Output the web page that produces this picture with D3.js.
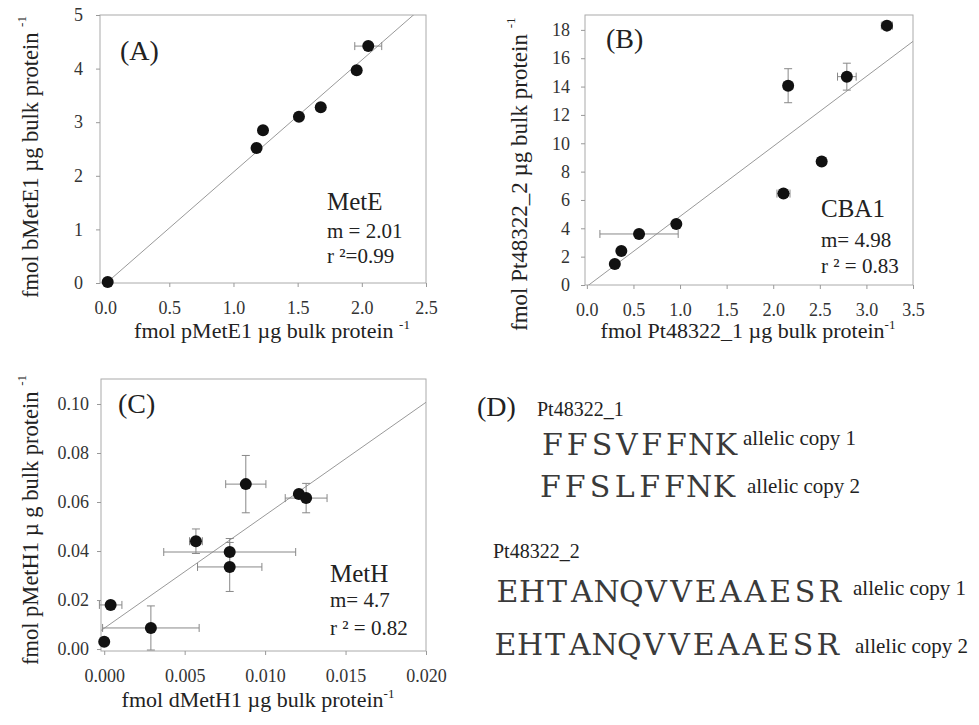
<!DOCTYPE html>
<html>
<head>
<meta charset="utf-8">
<title>Allelic copy quantification</title>
<script src="https://d3js.org/d3.v7.min.js"></script>
<style>
  body { margin: 0; background: #fff; }
  svg text { font-family: "Liberation Serif", "Times New Roman", serif; fill: #222; }
</style>
</head>
<body>
<div id="chart"></div>
<script>
// (A) MetE
let metEx    = [0.02, 1.18, 1.23, 1.51, 1.68, 1.96, 2.05];
let metEy    = [0.02, 2.52, 2.85, 3.10, 3.28, 3.97, 4.42];
let metExErr = [0, 0, 0, 0, 0, 0, 0.105];
let metEyErr = [0, 0, 0, 0, 0, 0, 0];
let metEFit  = [2.09, -0.02];          // slope, intercept of drawn line
let metEStats = ["MetE", "m = 2.01", "r ²=0.99"];

// (B) CBA1
let cbaX    = [0.30, 0.37, 0.56, 0.96, 2.11, 2.16, 2.52, 2.79, 3.22];
let cbaY    = [1.48, 2.40, 3.60, 4.30, 6.45, 14.06, 8.72, 14.70, 18.30];
let cbaXErr = [0, 0, 0.42, 0, 0.07, 0.05, 0.04, 0.10, 0.06];
let cbaYErr = [0, 0, 0, 0.1, 0, 1.2, 0, 0.95, 0.3];
let cbaFit  = [4.94, -0.10];
let cbaStats = ["CBA1", "m= 4.98", "r ² = 0.83"];

// (C) MetH
let metHx    = [0.0000, 0.0004, 0.0029, 0.0057, 0.0078, 0.0078, 0.0088, 0.0121, 0.01255];
let metHy    = [0.003, 0.018, 0.0086, 0.044, 0.0396, 0.0335, 0.0673, 0.0633, 0.0616];
let metHxErr = [0, 0.0007, 0.003, 0.0004, 0.0041, 0.002, 0.00125, 0, 0.0013];
let metHyErr = [0, 0, 0.009, 0.005, 0.0055, 0.01, 0.0117, 0, 0.006];
let metHFit  = [4.61, 0.0085];
let metHStats = ["MetH", "m= 4.7", "r ² = 0.82"];

// ticks
let ticksAx = [0, 0.5, 1.0, 1.5, 2.0, 2.5];
let ticksAy = [0, 1, 2, 3, 4, 5];
let ticksBx = [0, 0.5, 1.0, 1.5, 2.0, 2.5, 3.0, 3.5];
let ticksBy = [0, 2, 4, 6, 8, 10, 12, 14, 16, 18];
let ticksCx = [0, 0.005, 0.010, 0.015, 0.020];
let ticksCy = [0, 0.02, 0.04, 0.06, 0.08, 0.10];

// (D) peptides
let proteinNames = ["Pt48322_1", "Pt48322_2"];
let peptides = ["FFSVFFNK", "FFSLFFNK", "EHTANQVVEAAESR", "EHTANQVVEAAESR"];
let copyLabels = ["allelic copy 1", "allelic copy 2", "allelic copy 1", "allelic copy 2"];

let width = 979, height = 725;
let serif = '"Liberation Serif", "Times New Roman", serif';

let svg = d3.select("#chart").append("svg")
    .attr("width", width)
    .attr("height", height);

svg.append("rect").attr("width", width).attr("height", height).attr("fill", "#fff");

function styleAxis(a) {
    a.select(".domain").remove();
    a.selectAll("line").attr("stroke", "#999");
    a.selectAll("text")
        .style("font-family", serif)
        .style("font-size", "18px")
        .style("fill", "#333");
}

function drawPanel(p) {
    let g = svg.append("g");
    let x = d3.scaleLinear().domain(p.xDomain).range([p.left, p.right]);
    let y = d3.scaleLinear().domain(p.yDomain).range([p.bottom, p.top]);

    let clipId = "clip" + p.tag;
    g.append("clipPath").attr("id", clipId)
      .append("rect")
        .attr("x", p.left).attr("y", p.top)
        .attr("width", p.right - p.left).attr("height", p.bottom - p.top);

    // frame
    g.append("rect")
        .attr("x", p.left).attr("y", p.top)
        .attr("width", p.right - p.left).attr("height", p.bottom - p.top)
        .attr("fill", "none").attr("stroke", "#aaa").attr("stroke-width", 1);

    g.append("g")
        .attr("transform", `translate(0,${p.bottom})`)
        .call(d3.axisBottom(x).tickValues(p.xTicks).tickFormat(d3.format(p.xFmt))
            .tickSize(4).tickSizeOuter(0).tickPadding(14))
        .call(styleAxis);

    g.append("g")
        .attr("transform", `translate(${p.left},0)`)
        .call(d3.axisLeft(y).tickValues(p.yTicks).tickFormat(d3.format(p.yFmt))
            .tickSize(4).tickSizeOuter(0).tickPadding(p.yPad))
        .call(styleAxis);

    // regression line
    let line = d3.line().x(d => x(d)).y(d => y(p.fit[0] * d + p.fit[1]));
    g.append("path")
        .attr("clip-path", `url(#${clipId})`)
        .attr("d", line(p.xDomain))
        .attr("fill", "none").attr("stroke", "#999").attr("stroke-width", 1);

    let pts = p.xs.map((v, i) => ({x: v, y: p.ys[i], ex: p.xErr[i], ey: p.yErr[i]}));
    let cap = 4;
    let eb = g.append("g").attr("stroke", "#888").attr("stroke-width", 1);
    pts.filter(d => d.ex > 0).forEach(d => {
        eb.append("line").attr("x1", x(d.x - d.ex)).attr("x2", x(d.x + d.ex)).attr("y1", y(d.y)).attr("y2", y(d.y));
        eb.append("line").attr("x1", x(d.x - d.ex)).attr("x2", x(d.x - d.ex)).attr("y1", y(d.y) - cap).attr("y2", y(d.y) + cap);
        eb.append("line").attr("x1", x(d.x + d.ex)).attr("x2", x(d.x + d.ex)).attr("y1", y(d.y) - cap).attr("y2", y(d.y) + cap);
    });
    pts.filter(d => d.ey > 0).forEach(d => {
        eb.append("line").attr("x1", x(d.x)).attr("x2", x(d.x)).attr("y1", y(d.y - d.ey)).attr("y2", y(d.y + d.ey));
        eb.append("line").attr("x1", x(d.x) - cap).attr("x2", x(d.x) + cap).attr("y1", y(d.y - d.ey)).attr("y2", y(d.y - d.ey));
        eb.append("line").attr("x1", x(d.x) - cap).attr("x2", x(d.x) + cap).attr("y1", y(d.y + d.ey)).attr("y2", y(d.y + d.ey));
    });

    g.append("g").selectAll("circle")
        .data(pts)
        .join("circle")
        .attr("cx", d => x(d.x))
        .attr("cy", d => y(d.y))
        .attr("r", 6)
        .attr("fill", "#111");

    // panel letter
    g.append("text").attr("x", p.letterPos[0]).attr("y", p.letterPos[1])
        .attr("font-size", 28).text(`(${p.tag})`);

    // stats block
    g.append("text").attr("x", p.statsPos[0]).attr("y", p.statsPos[1])
        .attr("font-size", 25).text(p.stats[0]);
    g.append("text").attr("x", p.statsPos[0]).attr("y", p.statsPos[1] + p.statsGap[0])
        .attr("font-size", 21).text(p.stats[1]);
    g.append("text").attr("x", p.statsPos[0]).attr("y", p.statsPos[1] + p.statsGap[1])
        .attr("font-size", 21).text(p.stats[2]);

    // x label
    let xl = g.append("text")
        .attr("x", p.xLabelPos[0]).attr("y", p.xLabelPos[1])
        .attr("text-anchor", "middle").attr("font-size", 22)
        .text(p.xLabel);
    xl.append("tspan").attr("font-size", 13).attr("dy", -9).text("-1");

    // y label
    let yl = g.append("text")
        .attr("transform", `translate(${p.yLabelPos[0]},${p.yLabelPos[1]}) rotate(-90)`)
        .attr("font-size", p.yLabelSize)
        .text(p.yLabel);
    yl.append("tspan").attr("font-size", 13).attr("dy", -12).text("-1");
}

drawPanel({
    tag: "A", xs: metEx, ys: metEy, xErr: metExErr, yErr: metEyErr, fit: metEFit, stats: metEStats,
    left: 100, right: 426, top: 15, bottom: 283,
    xDomain: [-0.04, 2.5], yDomain: [0, 5],
    xTicks: ticksAx, yTicks: ticksAy, xFmt: ".1f", yFmt: "d", yPad: 13,
    letterPos: [120, 60], statsPos: [327, 210], statsGap: [28, 53],
    xLabel: "fmol pMetE1 \u00b5g bulk protein ", xLabelPos: [272, 338],
    yLabel: "fmol bMetE1 \u00b5g bulk protein ", yLabelPos: [38, 298], yLabelSize: 22.5
});

drawPanel({
    tag: "B", xs: cbaX, ys: cbaY, xErr: cbaXErr, yErr: cbaYErr, fit: cbaFit, stats: cbaStats,
    left: 585, right: 913, top: 15, bottom: 285,
    xDomain: [-0.02, 3.5], yDomain: [0, 19.05],
    xTicks: ticksBx, yTicks: ticksBy, xFmt: ".1f", yFmt: "d", yPad: 11,
    letterPos: [606, 48], statsPos: [821, 217], statsGap: [30, 56],
    xLabel: "fmol Pt48322_1 \u00b5g bulk protein", xLabelPos: [748, 338],
    yLabel: "fmol Pt48322_2 \u00b5g bulk protein ", yLabelPos: [527, 331], yLabelSize: 23
});

drawPanel({
    tag: "C", xs: metHx, ys: metHy, xErr: metHxErr, yErr: metHyErr, fit: metHFit, stats: metHStats,
    left: 101, right: 426, top: 379, bottom: 651,
    xDomain: [-0.0002, 0.020], yDomain: [-0.0008, 0.1102],
    xTicks: ticksCx, yTicks: ticksCy, xFmt: ".3f", yFmt: ".2f", yPad: 8,
    letterPos: [118, 413], statsPos: [330, 582], statsGap: [25, 53],
    xLabel: "fmol dMetH1 \u00b5g bulk protein", xLabelPos: [258, 707],
    yLabel: "fmol pMetH1 \u00b5 g bulk protein ", yLabelPos: [38, 665], yLabelSize: 22.5
});

// (D) peptide sequences, typewriter-style fixed cells
let d = svg.append("g");
d.append("text").attr("x", 477).attr("y", 416).attr("font-size", 28).text("(D)");
let nameRows = [[537, 416], [493, 558]];
proteinNames.forEach((n, i) => {
    d.append("text").attr("x", nameRows[i][0]).attr("y", nameRows[i][1])
        .attr("font-size", 20).text(n);
});
let pepRows = [[540, 455], [538, 497], [495, 602], [493, 655]];
let copyRows = [[743, 445], [747, 493], [853, 595], [855, 653]];
let cell = 24.8;
peptides.forEach((s, i) => {
    let t = d.append("text")
        .attr("y", pepRows[i][1])
        .style("font-family", '"DejaVu Serif", serif')
        .style("font-size", "30px")
        .style("font-weight", 300)
        .style("fill", "#3a3a3a");
    s.split("").forEach((c, j) => {
        t.append("tspan")
            .attr("x", pepRows[i][0] + (j + 0.5) * cell)
            .attr("text-anchor", "middle")
            .text(c);
    });
    d.append("text").attr("x", copyRows[i][0]).attr("y", copyRows[i][1])
        .attr("font-size", 21).text(copyLabels[i]);
});
</script>
</body>
</html>
